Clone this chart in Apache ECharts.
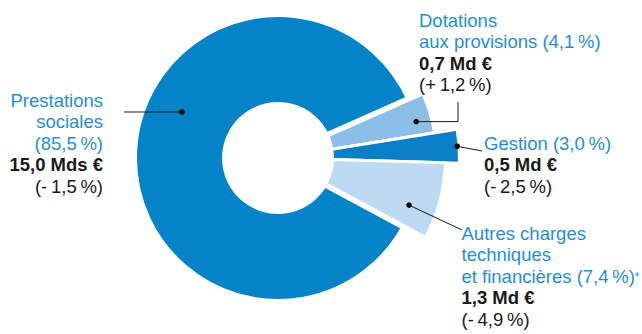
<!DOCTYPE html>
<html>
<head>
<meta charset="utf-8">
<script src="https://cdn.jsdelivr.net/npm/echarts@6/dist/echarts.min.js"></script>
<style>
  html, body { margin: 0; padding: 0; background: #fff; }
  #chart { width: 642px; height: 334px; }
</style>
</head>
<body>
<div id="chart"></div>
<script>
// Breakdown of expenses: share of total (%), amount and yearly change
const categories = ['Prestations sociales', 'Dotations aux provisions', 'Gestion', 'Autres charges techniques et financières'];
const shares = [85.5, 4.1, 3.0, 7.4];
const amounts = ['15,0 Mds €', '0,7 Md €', '0,5 Md €', '1,3 Md €'];
const changes = ['(-\u20091,5\u2009%)', '(+\u20091,2\u2009%)', '(-\u20092,5\u2009%)', '(-\u20094,9\u2009%)'];
const nameLines = [['Prestations', 'sociales'], ['Dotations', 'aux provisions'], ['Gestion'], ['Autres charges', 'techniques', 'et financières']];

const FONT = "'Liberation Sans', Arial, Helvetica, sans-serif";
const BLUE_TEXT = '#1f8fd6';
const INK = '#1a1a1a';
const FS = 18.5, LH = 21.5;

// per-slice drawing style
const sliceColors = ['#0483c8', '#8bbfe6', '#0a7fc6', '#bed9f2'];
const outerR = [141, 157, 180, 166];
const innerR = 56;
const borderW = [8, 3, 3, 3];
const CENTER = [278, 158];
const START = 331.7;

const chart = echarts.init(document.getElementById('chart'), null, { renderer: 'svg' });

// one pie per slice so that each slice gets its own outer radius;
// the other slices of that pie stay invisible but keep the angles shared
const series = categories.map((_, k) => ({
  type: 'pie',
  center: CENTER,
  radius: [innerR - borderW[k] / 2, outerR[k] + borderW[k] / 2],
  startAngle: START,
  clockwise: true,
  silent: true,
  label: { show: false },
  labelLine: { show: false },
  emphasis: { disabled: true },
  data: categories.map((name, i) => ({
    name,
    value: shares[i],
    itemStyle: i === k
      ? { color: sliceColors[k], borderColor: '#ffffff', borderWidth: borderW[k] }
      : { color: 'rgba(0,0,0,0)', borderWidth: 0 }
  }))
}));

chart.setOption({ animation: false, backgroundColor: '#ffffff', series });

function fmtPct(v) { return '(' + v.toFixed(1).replace('.', ',') + '\u2009%)'; }

// point inside a slice, given fractions of its angle span and radial band
function slicePoint(k, angleFrac, radFrac) {
  const lay = chart.getModel().getSeriesByIndex(k).getData().getItemLayout(k);
  const a = lay.startAngle + (lay.endAngle - lay.startAngle) * angleFrac;
  const r = lay.r0 + (lay.r - lay.r0) * radFrac;
  return [lay.cx + r * Math.cos(a), lay.cy + r * Math.sin(a)];
}

const rich = {
  t: { fontSize: FS, fontFamily: FONT, fill: BLUE_TEXT, color: BLUE_TEXT, lineHeight: LH },
  b: { fontSize: FS, fontFamily: FONT, fontWeight: 'bold', fill: INK, color: INK, lineHeight: LH },
  n: { fontSize: FS, fontFamily: FONT, fill: INK, color: INK, lineHeight: LH },
  s: { fontSize: 12, fontFamily: FONT, fill: BLUE_TEXT, color: BLUE_TEXT, lineHeight: LH, verticalAlign: 'top', padding: [5, 0, 0, 0] }
};

function blockText(k) {
  const lines = nameLines[k].map(s => '{t|' + s + '}');
  if (k === 0) {
    lines.push('{t|' + fmtPct(shares[k]) + '}');
  } else {
    lines[lines.length - 1] = '{t|' + nameLines[k][nameLines[k].length - 1] + ' ' + fmtPct(shares[k]) + '}' + (k === 3 ? '{s|*}' : '');
  }
  lines.push('{b|' + amounts[k] + '}');
  lines.push('{n|' + changes[k] + '}');
  return lines.join('\n');
}

// label blocks: anchor x, top y, alignment
const blocks = [
  { x: 103, y: 89.5, align: 'right' },
  { x: 419, y: 9.5, align: 'left' },
  { x: 484, y: 132.5, align: 'left' },
  { x: 461.5, y: 222.5, align: 'left' }
];

const dots = [
  slicePoint(0, 0.576, 0.586),
  slicePoint(1, 0.62, 0.85),
  slicePoint(2, 0.5, 0.985),
  slicePoint(3, 0.68, 0.75)
];

const leaders = [
  [dots[0], [124, dots[0][1]]],
  [dots[1], [458, dots[1][1]], [458, 102]],
  [dots[2], [482, 151]],
  [dots[3], [462, 230]]
];

const graphic = [];
blocks.forEach((b, k) => {
  graphic.push({
    type: 'text', silent: true, z: 10,
    style: {
      text: blockText(k), rich, x: b.x, y: b.y,
      align: b.align, textAlign: b.align, verticalAlign: 'top', textVerticalAlign: 'top',
      fontSize: FS, fontFamily: FONT, lineHeight: LH
    }
  });
});
leaders.forEach(pts => {
  graphic.push({
    type: 'polyline', silent: true, z: 11,
    shape: { points: pts },
    style: { stroke: '#1a1a1a', lineWidth: 1, fill: null }
  });
});
dots.forEach(p => {
  graphic.push({
    type: 'circle', silent: true, z: 12,
    shape: { cx: p[0], cy: p[1], r: 2.8 },
    style: { fill: '#000000' }
  });
});

chart.setOption({ graphic });
</script>
</body>
</html>
